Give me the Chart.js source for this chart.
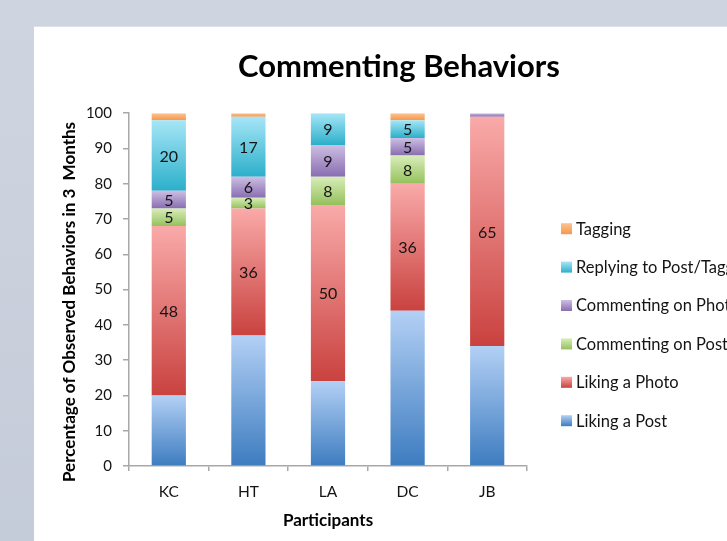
<!DOCTYPE html>
<html>
<head>
<meta charset="utf-8">
<script src="https://cdn.jsdelivr.net/npm/chart.js@4.4.0/dist/chart.umd.min.js"></script>
<style>
    html, body { margin: 0; padding: 0; overflow: hidden; }
    body { width: 727px; height: 541px; background: linear-gradient(#cfd5e0, #c5ccd9); position: relative; }
    #panel { position: absolute; left: 34px; top: 26px; width: 693px; height: 515px; background: #fff; border-top: 1px solid #dde1e8; box-sizing: border-box; }
    #behaviorChart { position: absolute; left: 34px; top: 26px; }
</style>
</head>
<body>
<div id="panel"></div>
<canvas id="behaviorChart" width="730" height="515"></canvas>
<script>
var PARTICIPANTS = ['KC', 'HT', 'LA', 'DC', 'JB'];
var LIKING_POST = [20, 37, 24, 44, 34];
var LIKING_PHOTO = [48, 36, 50, 36, 65];
var COMMENTING_POST = [5, 3, 8, 8, 0];
var COMMENTING_PHOTO = [5, 6, 9, 5, 1];
var REPLYING = [20, 17, 9, 5, 0];
var TAGGING = [2, 1, 0, 2, 0];
var Y_TICKS = [0, 10, 20, 30, 40, 50, 60, 70, 80, 90, 100];

var FONT = 'Lato, "Open Sans", sans-serif';
var TEXT_COLOR = '#141414';
var AXIS_COLOR = '#a8a8a8';

// light top -> dark bottom, like the old office gradients
var SERIES = [
    {label: 'Liking a Post', data: LIKING_POST, colors: ['#b3d0f5', '#3d7cc0'], showValues: false},
    {label: 'Liking a Photo', data: LIKING_PHOTO, colors: ['#f9aaa9', '#c9423f'], showValues: true},
    {label: 'Commenting on Post', data: COMMENTING_POST, colors: ['#d8edb9', '#95c15c'], showValues: true},
    {label: 'Commenting on Photo', data: COMMENTING_PHOTO, colors: ['#cdbfe3', '#886db0'], showValues: true},
    {label: 'Replying to Post/Tagging', data: REPLYING, colors: ['#a6e6f7', '#2cafca'], showValues: true},
    {label: 'Tagging', data: TAGGING, colors: ['#fcc392', '#f7974a'], showValues: false}
];

function segmentGradient(context) {
    var chart = context.chart;
    var colors = SERIES[context.datasetIndex].colors;
    if (!chart.chartArea || context.type !== 'data') {
        return colors[1];
    }
    var datasets = chart.data.datasets;
    var base = 0;
    for (var i = 0; i < context.datasetIndex; i++) {
        base += datasets[i].data[context.dataIndex];
    }
    var value = datasets[context.datasetIndex].data[context.dataIndex];
    var yScale = chart.scales.y;
    var top = yScale.getPixelForValue(base + value);
    var bottom = yScale.getPixelForValue(base);
    if (bottom - top < 1) {
        return colors[1];
    }
    var gradient = chart.ctx.createLinearGradient(0, top, 0, bottom);
    gradient.addColorStop(0, colors[0]);
    gradient.addColorStop(1, colors[1]);
    return gradient;
}

var valueLabels = {
    id: 'valueLabels',
    afterDatasetsDraw: function(chart) {
        var ctx = chart.ctx;
        ctx.save();
        ctx.font = '16px ' + FONT;
        ctx.fillStyle = TEXT_COLOR;
        ctx.textAlign = 'center';
        ctx.textBaseline = 'middle';
        chart.data.datasets.forEach(function(dataset, datasetIndex) {
            if (!SERIES[datasetIndex].showValues) {
                return;
            }
            chart.getDatasetMeta(datasetIndex).data.forEach(function(bar, index) {
                var value = dataset.data[index];
                if (value < 3) {
                    return;
                }
                ctx.fillText(String(value), bar.x, (bar.y + bar.base) / 2 + 1);
            });
        });
        ctx.restore();
    }
};

var sideLegend = {
    id: 'sideLegend',
    afterDraw: function(chart) {
        var ctx = chart.ctx;
        var area = chart.chartArea;
        var x = area.right + 34;
        var y = area.top + 115;
        ctx.save();
        ctx.font = '16.5px ' + FONT;
        ctx.textAlign = 'left';
        ctx.textBaseline = 'middle';
        for (var i = SERIES.length - 1; i >= 0; i--) {
            var gradient = ctx.createLinearGradient(0, y - 5, 0, y + 6);
            gradient.addColorStop(0, SERIES[i].colors[0]);
            gradient.addColorStop(1, SERIES[i].colors[1]);
            ctx.fillStyle = gradient;
            ctx.fillRect(x, y - 5, 11, 11);
            ctx.fillStyle = TEXT_COLOR;
            ctx.fillText(SERIES[i].label, x + 15, y + 1);
            y += 38.4;
        }
        ctx.restore();
    }
};

var behaviorChart = new Chart(
    document.getElementById('behaviorChart'),
    {
      type: 'bar',
      data: {
        labels: PARTICIPANTS,
        datasets: SERIES.map(function(series) {
            return {
              label: series.label,
              data: series.data,
              backgroundColor: segmentGradient,
              borderWidth: 0,
              barPercentage: 0.43,
              categoryPercentage: 1
            };
        })
      },
      options: {
        responsive: false,
        animation: false,
        devicePixelRatio: 1,
        layout: {padding: 0},
        plugins: {
          legend: {display: false},
          tooltip: {enabled: false},
          title: {
            display: true,
            text: 'Commenting Behaviors',
            color: '#000',
            font: {family: FONT, size: 31, weight: 'bold'},
            padding: {top: 22, bottom: 28}
          }
        },
        scales: {
          x: {
            stacked: true,
            grid: {display: true, drawOnChartArea: false, offset: true, color: AXIS_COLOR, tickLength: 5, lineWidth: 1.5},
            border: {color: AXIS_COLOR, width: 1.5},
            ticks: {color: TEXT_COLOR, font: {family: FONT, size: 15.5}, padding: 12},
            title: {
              display: true,
              text: 'Participants',
              color: '#000',
              font: {family: FONT, size: 17, weight: 'bold'},
              padding: {top: 0, bottom: 10}
            },
            afterFit: function(scale) { scale.height = 75; }
          },
          y: {
            stacked: true,
            min: 0,
            max: 100,
            afterBuildTicks: function(scale) {
                scale.ticks = Y_TICKS.map(function(v) { return {value: v}; });
            },
            grid: {display: true, drawOnChartArea: false, color: AXIS_COLOR, tickLength: 6, lineWidth: 1.5},
            border: {color: AXIS_COLOR, width: 1.5},
            ticks: {color: TEXT_COLOR, font: {family: FONT, size: 15}, padding: 11},
            title: {
              display: true,
              text: 'Percentage of Observed Behaviors in 3  Months      ',
              color: '#000',
              font: {family: FONT, size: 17, weight: 'bold'},
              padding: {top: 25, bottom: 0}
            },
            afterFit: function(scale) { scale.width = 95; }
          },
          // empty axis that keeps the room for the legend on the right
          legendRoom: {
            type: 'linear',
            position: 'right',
            grid: {display: false},
            border: {display: false},
            ticks: {display: false},
            afterFit: function(scale) { scale.width = 237; }
          }
        }
      },
      plugins: [valueLabels, sideLegend]
    }
);
</script>
</body>
</html>
